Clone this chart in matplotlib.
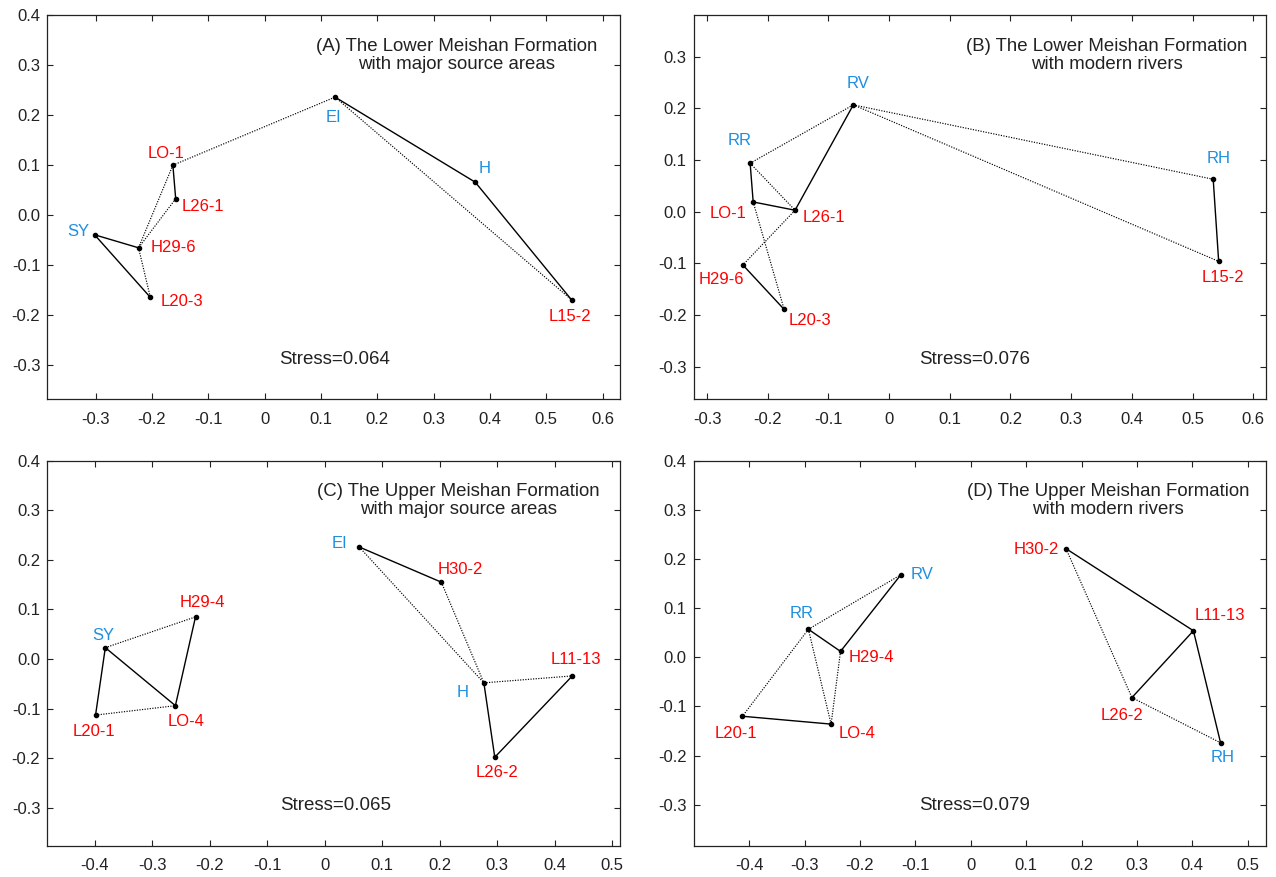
import matplotlib
matplotlib.use("Agg")
import matplotlib.pyplot as plt

plt.rcParams['font.family'] = ['Liberation Sans', 'DejaVu Sans']

# ---------------- data ----------------
# Panel A: Lower Meishan Formation with major source areas
a_names = ["EI", "H", "L15-2", "LO-1", "L26-1", "SY", "H29-6", "L20-3"]
a_x = [0.125, 0.374, 0.545, -0.163, -0.158, -0.302, -0.224, -0.203]
a_y = [0.236, 0.066, -0.169, 0.100, 0.033, -0.039, -0.065, -0.164]
a_source = ["EI", "H", "SY"]
a_solid = [("EI", "H"), ("H", "L15-2"), ("LO-1", "L26-1"), ("SY", "H29-6"), ("SY", "L20-3")]
a_dotted = [("LO-1", "EI"), ("EI", "L15-2"), ("LO-1", "H29-6"), ("L26-1", "H29-6"), ("H29-6", "L20-3")]
a_title = "(A) The Lower Meishan Formation\nwith major source areas"
a_stress = "Stress=0.064"

# Panel B: Lower Meishan Formation with modern rivers
b_names = ["RV", "RR", "LO-1", "L26-1", "H29-6", "L20-3", "RH", "L15-2"]
b_x = [-0.059, -0.229, -0.224, -0.155, -0.241, -0.173, 0.534, 0.543]
b_y = [0.207, 0.094, 0.019, 0.003, -0.103, -0.189, 0.063, -0.096]
b_source = ["RV", "RR", "RH"]
b_solid = [("RR", "LO-1"), ("LO-1", "L26-1"), ("L26-1", "RV"), ("RH", "L15-2"), ("H29-6", "L20-3")]
b_dotted = [("RR", "RV"), ("RR", "L26-1"), ("RV", "RH"), ("RV", "L15-2"), ("LO-1", "L20-3"), ("L26-1", "H29-6")]
b_title = "(B) The Lower Meishan Formation\nwith modern rivers"
b_stress = "Stress=0.076"

# Panel C: Upper Meishan Formation with major source areas
c_names = ["EI", "H30-2", "H", "L11-13", "L26-2", "SY", "H29-4", "LO-4", "L20-1"]
c_x = [0.060, 0.203, 0.277, 0.431, 0.296, -0.382, -0.225, -0.260, -0.399]
c_y = [0.226, 0.155, -0.048, -0.034, -0.198, 0.023, 0.085, -0.094, -0.113]
c_source = ["EI", "H", "SY"]
c_solid = [("EI", "H30-2"), ("H", "L26-2"), ("L26-2", "L11-13"), ("SY", "L20-1"), ("SY", "LO-4"), ("LO-4", "H29-4")]
c_dotted = [("EI", "H"), ("H30-2", "H"), ("H", "L11-13"), ("SY", "H29-4"), ("L20-1", "LO-4")]
c_title = "(C) The Upper Meishan Formation\nwith major source areas"
c_stress = "Stress=0.065"

# Panel D: Upper Meishan Formation with modern rivers
d_names = ["RV", "RR", "H29-4", "L20-1", "LO-4", "H30-2", "L11-13", "L26-2", "RH"]
d_x = [-0.126, -0.293, -0.235, -0.412, -0.252, 0.172, 0.402, 0.291, 0.451]
d_y = [0.168, 0.057, 0.012, -0.120, -0.136, 0.221, 0.054, -0.082, -0.174]
d_source = ["RV", "RR", "RH"]
d_solid = [("RR", "H29-4"), ("H29-4", "RV"), ("L20-1", "LO-4"), ("H30-2", "L11-13"), ("L11-13", "L26-2"), ("L11-13", "RH")]
d_dotted = [("RR", "RV"), ("RR", "L20-1"), ("RR", "LO-4"), ("H29-4", "LO-4"), ("H30-2", "L26-2"), ("L26-2", "RH")]
d_title = "(D) The Upper Meishan Formation\nwith modern rivers"
d_stress = "Stress=0.079"

# ---------------- style ----------------
RED = "#ff0000"
BLUE = "#1e8fe0"
TXT = "#222222"

# label offsets in pixels (dx, dy) relative to the point
a_off = {"EI": (-2, -20), "H": (9, 14), "L15-2": (-2, -17), "LO-1": (-7, 12),
         "L26-1": (27, -8), "SY": (-16, 3), "H29-6": (35, 0), "L20-3": (32, -4)}
b_off = {"RV": (5, 21), "RR": (-11, 23), "LO-1": (-25, -12), "L26-1": (29, -7),
         "H29-6": (-21, -15), "L20-3": (26, -11), "RH": (5, 21), "L15-2": (4, -16)}
c_off = {"EI": (-20, 3), "H30-2": (19, 13), "H": (-21, -10), "L11-13": (4, 16),
         "L26-2": (2, -15), "SY": (-2, 12), "H29-4": (7, 14), "LO-4": (11, -16), "L20-1": (-2, -16)}
d_off = {"RV": (21, 0), "RR": (-7, 16), "H29-4": (31, -6), "L20-1": (-7, -17),
         "LO-4": (26, -9), "H30-2": (-30, -1), "L11-13": (26, 15), "L26-2": (-10, -18), "RH": (2, -15)}

panels = [
    dict(names=a_names, x=a_x, y=a_y, src=a_source, solid=a_solid, dotted=a_dotted,
         title=a_title, stress=a_stress, off=a_off,
         box=(47.3, 15, 620, 399), xlim=(-0.386, 0.631), ylim=(-0.367, 0.400),
         xticks=[-0.3, -0.2, -0.1, 0, 0.1, 0.2, 0.3, 0.4, 0.5, 0.6],
         yticks=[-0.3, -0.2, -0.1, 0.0, 0.1, 0.2, 0.3, 0.4],
         tpos=(0.715, 0.894), spos=(0.501, 0.103)),
    dict(names=b_names, x=b_x, y=b_y, src=b_source, solid=b_solid, dotted=b_dotted,
         title=b_title, stress=b_stress, off=b_off,
         box=(693.7, 15, 1266, 399), xlim=(-0.322, 0.621), ylim=(-0.3625, 0.381),
         xticks=[-0.3, -0.2, -0.1, 0, 0.1, 0.2, 0.3, 0.4, 0.5, 0.6],
         yticks=[-0.3, -0.2, -0.1, 0.0, 0.1, 0.2, 0.3],
         tpos=(0.722, 0.894), spos=(0.490, 0.103)),
    dict(names=c_names, x=c_x, y=c_y, src=c_source, solid=c_solid, dotted=c_dotted,
         title=c_title, stress=c_stress, off=c_off,
         box=(47.3, 460.7, 620, 846), xlim=(-0.483, 0.514), ylim=(-0.377, 0.400),
         xticks=[-0.4, -0.3, -0.2, -0.1, 0, 0.1, 0.2, 0.3, 0.4, 0.5],
         yticks=[-0.3, -0.2, -0.1, 0.0, 0.1, 0.2, 0.3, 0.4],
         tpos=(0.7175, 0.897), spos=(0.5035, 0.106)),
    dict(names=d_names, x=d_x, y=d_y, src=d_source, solid=d_solid, dotted=d_dotted,
         title=d_title, stress=d_stress, off=d_off,
         box=(693.7, 460.7, 1266, 846), xlim=(-0.500, 0.533), ylim=(-0.384, 0.400),
         xticks=[-0.4, -0.3, -0.2, -0.1, 0, 0.1, 0.2, 0.3, 0.4, 0.5],
         yticks=[-0.3, -0.2, -0.1, 0.0, 0.1, 0.2, 0.3, 0.4],
         tpos=(0.724, 0.897), spos=(0.490, 0.106)),
]

W, H = 1276, 877
fig = plt.figure(figsize=(W / 100, H / 100), dpi=100)


def xfmt(v):
    return "0" if abs(v) < 1e-9 else f"{v:.1f}"


def yfmt(v):
    return f"{v:.1f}"


for p in panels:
    l, t, r, b = p["box"]
    ax = fig.add_axes([l / W, 1 - b / H, (r - l) / W, (b - t) / H])
    pos = {n: (xx, yy) for n, xx, yy in zip(p["names"], p["x"], p["y"])}
    for (u, v) in p["dotted"]:
        ax.plot([pos[u][0], pos[v][0]], [pos[u][1], pos[v][1]], color="black",
                lw=0.85, linestyle=(0, (1, 1.2)), zorder=2)
    for (u, v) in p["solid"]:
        ax.plot([pos[u][0], pos[v][0]], [pos[u][1], pos[v][1]], color="black",
                lw=1.0, solid_capstyle="round", zorder=3)
    ax.plot(p["x"], p["y"], "o", color="black", ms=3.0, zorder=4)
    for n in p["names"]:
        dx, dy = p["off"][n]
        ax.annotate(n, xy=pos[n], xytext=(dx, dy), textcoords="offset pixels",
                    ha="center", va="center", fontsize=12,
                    color=BLUE if n in p["src"] else RED)
    ax.text(p["tpos"][0], p["tpos"][1], p["title"], transform=ax.transAxes,
            ha="center", va="center", multialignment="center", fontsize=13.4,
            linespacing=1.08, color=TXT)
    ax.text(p["spos"][0], p["spos"][1], p["stress"], transform=ax.transAxes,
            ha="center", va="center", fontsize=13.5, color=TXT)
    ax.set_xlim(*p["xlim"])
    ax.set_ylim(*p["ylim"])
    ax.set_xticks(p["xticks"])
    ax.set_xticklabels([xfmt(v) for v in p["xticks"]])
    ax.set_yticks(p["yticks"])
    ax.set_yticklabels([yfmt(v) for v in p["yticks"]])
    ax.tick_params(direction="in", length=4, width=0.8, top=True, right=True,
                   labelsize=12, colors=TXT)
    ax.tick_params(axis="x", pad=9)
    ax.tick_params(axis="y", pad=5)
    for s in ax.spines.values():
        s.set_linewidth(0.9)
        s.set_color(TXT)

fig.savefig("out.png", dpi=100)
